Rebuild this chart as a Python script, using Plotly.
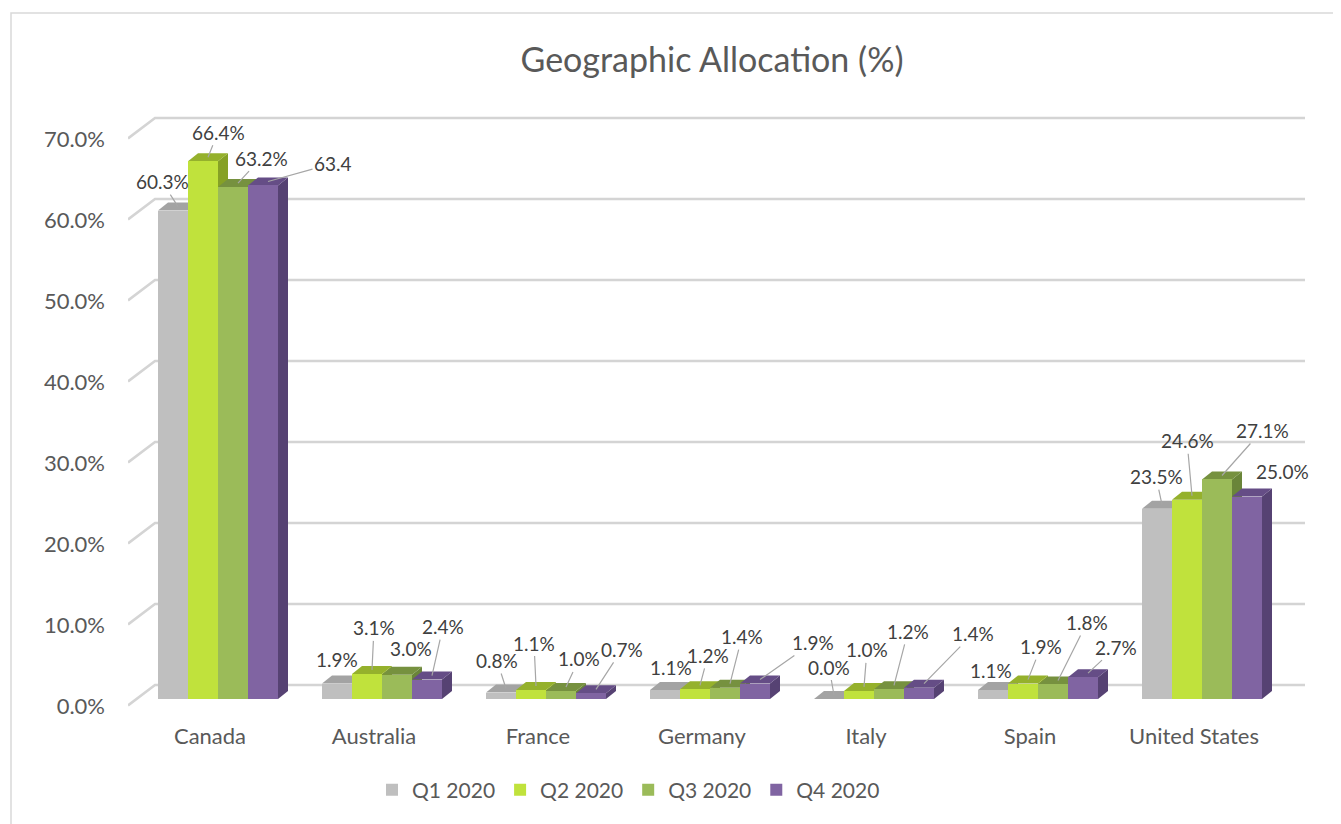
import plotly.graph_objects as go

# ---------------- data ----------------
categories = ["Canada", "Australia", "France", "Germany", "Italy", "Spain", "United States"]
series_names = ["Q1 2020", "Q2 2020", "Q3 2020", "Q4 2020"]
q1_2020 = [60.3, 1.9, 0.8, 1.1, 0.0, 1.1, 23.5]
q2_2020 = [66.4, 3.1, 1.1, 1.2, 1.0, 1.9, 24.6]
q3_2020 = [63.2, 3.0, 1.0, 1.4, 1.2, 1.8, 27.1]
q4_2020 = [63.4, 2.4, 0.7, 1.9, 1.4, 2.7, 25.0]
y_ticks = [0, 10, 20, 30, 40, 50, 60, 70]
y_tick_labels = ["0.0%", "10.0%", "20.0%", "30.0%", "40.0%", "50.0%", "60.0%", "70.0%"]
# label shown truncated in the original chart
label_overrides = {(3, 0): "63.4"}

series_values = [q1_2020, q2_2020, q3_2020, q4_2020]

# ---------------- styles ----------------
front_colors = ["#BFBFBF", "#C0E23C", "#9BBB59", "#8064A2"]
top_colors = ["#A3A3A3", "#95B12C", "#76913F", "#654D86"]
side_colors = ["#8E8E8E", "#86A126", "#6A8539", "#564273"]

FONT = "Lato"
PAGE = 8                   # default page margin of the html body
W, H = 1341 - PAGE, 824 - PAGE
ML, MR, MT = 128 - PAGE, W - (1305 - PAGE), 100 - PAGE
PLOT_BOTTOM = 712 - PAGE
MB = H - PLOT_BOTTOM
PX_PER_X = 164.0          # pixels per category unit
PX_PER_Y = 8.1            # pixels per percentage point
Y_ZERO_PX = 699 - PAGE    # pixel row of value 0 (bar plane)
plot_h = H - MT - MB
x_range = [-0.5, -0.5 + (W - ML - MR) / PX_PER_X]
y_range = [-(PLOT_BOTTOM - Y_ZERO_PX) / PX_PER_Y, (Y_ZERO_PX - MT) / PX_PER_Y]

bar_w = 30 / PX_PER_X
group_start = -52 / PX_PER_X
DX = 10 / PX_PER_X        # depth offset (x) of bar boxes
DY = 8 / PX_PER_Y         # depth offset (y) of bar boxes

# label offsets in pixels (dx, dy, leader line)
label_pos = [
    [(-16, -25, 1), (-5, -20, 0), (-9, -28, 1), (1, -19, 0), (-5, -28, 1), (-7, -16, 0), (-6, -28, 1)],
    [(10, -25, 1), (2, -42, 1), (-2, -43, 1), (8, -30, 1), (3, -37, 1), (13, -33, 1), (-5, -55, 1)],
    [(23, -25, 1), (9, -22, 0), (13, -28, 1), (12, -47, 1), (14, -54, 1), (29, -58, 1), (40, -45, 1)],
    [(65, -18, 1), (11, -49, 1), (26, -40, 1), (53, -37, 1), (49, -50, 1), (28, -26, 1), (30, -21, 0)],
]

fig = go.Figure()
shapes = []

# back-wall style gridlines (front edge -> back edge -> across)
g_front = -6.5 / PX_PER_Y
g_back = 14 / PX_PER_Y
gx_back = x_range[0] + 27 / PX_PER_X
for v in y_ticks:
    path = (f"M {x_range[0]},{v + g_front} L {gx_back},{v + g_back} "
            f"L {x_range[1]},{v + g_back}")
    shapes.append(dict(type="path", path=path, xref="x", yref="y", layer="below",
                       line=dict(color="#D4D4D4", width=2.6)))

xs = list(range(len(categories)))
for i, (name, vals) in enumerate(zip(series_names, series_values)):
    off = group_start + i * bar_w
    fig.add_trace(go.Bar(
        x=xs, y=vals, name=name, width=bar_w, offset=off,
        marker=dict(color=front_colors[i], line=dict(width=0)),
        hovertemplate="%{customdata}<br>" + name + ": %{y:.1f}%<extra></extra>",
        customdata=categories,
    ))
    for c, v in zip(xs, vals):
        xl = c + off
        xr = xl + bar_w
        top = (f"M {xl},{v} L {xr},{v} L {xr + DX},{v + DY} L {xl + DX},{v + DY} Z")
        side = (f"M {xr},0 L {xr},{v} L {xr + DX},{v + DY} L {xr + DX},{DY} Z")
        shapes.append(dict(type="path", path=side, xref="x", yref="y", layer="below",
                           fillcolor=side_colors[i], line=dict(width=0)))
        shapes.append(dict(type="path", path=top, xref="x", yref="y", layer="below",
                           fillcolor=top_colors[i], line=dict(width=0)))


def px_to_paper_x(px):
    return (px - ML) / (W - ML - MR)


def px_to_paper_y(py):
    return (MT + plot_h - py) / plot_h


# outer chart border (left and top edges visible)
shapes.append(dict(type="rect", xref="paper", yref="paper",
                   x0=px_to_paper_x(11 - PAGE), y0=px_to_paper_y(H + 20),
                   x1=px_to_paper_x(W + 20), y1=px_to_paper_y(13 - PAGE),
                   line=dict(color="#D9D9D9", width=1.5), layer="below"))

annotations = []
for i, vals in enumerate(series_values):
    off = group_start + i * bar_w
    for c, v in enumerate(vals):
        text = label_overrides.get((i, c), f"{v:.1f}%")
        ox, oy, line = label_pos[i][c]
        ax_x = c + off + bar_w / 2 + DX / 2
        ax_y = v + DY / 2
        a = dict(x=ax_x, y=ax_y, xref="x", yref="y", text=text,
                 font=dict(family=FONT, size=19, color="#404040"))
        if line:
            a.update(showarrow=True, ax=ox, ay=oy, arrowhead=0, arrowwidth=1.2,
                     arrowcolor="#A6A6A6", standoff=0, startstandoff=0)
        else:
            a.update(showarrow=False, xshift=ox, yshift=-oy,
                     xanchor="center", yanchor="middle")
        annotations.append(a)

fig.update_layout(
    width=W, height=H, autosize=False,
    margin=dict(l=ML, r=MR, t=MT, b=MB),
    paper_bgcolor="white", plot_bgcolor="white",
    title=dict(text="Geographic Allocation (%)", xref="container", yref="container",
               x=(712 - PAGE) / W, xanchor="center",
               y=1 - (60 - PAGE) / H, yanchor="middle",
               font=dict(family=FONT, size=34, color="#595959")),
    shapes=shapes,
    annotations=annotations,
    showlegend=True,
    legend=dict(orientation="h", x=px_to_paper_x(372 - PAGE), xanchor="left",
                y=px_to_paper_y(790 - PAGE), yanchor="middle",
                font=dict(family=FONT, size=21, color="#595959"),
                itemsizing="constant", traceorder="normal", itemwidth=30),
    xaxis=dict(range=x_range, tickvals=xs, ticktext=categories, showgrid=False,
               zeroline=False, showline=False, ticks="", ticklabelstandoff=9,
               tickfont=dict(family=FONT, size=22, color="#595959"), fixedrange=True),
    yaxis=dict(range=y_range, tickvals=y_ticks, ticktext=y_tick_labels, showgrid=False,
               zeroline=False, showline=False, ticks="", ticklabelstandoff=22,
               ticklabelshift=7,
               tickfont=dict(family=FONT, size=22, color="#595959"), fixedrange=True),
    bargap=0, barmode="overlay",
)

fig.write_html("out.html")
